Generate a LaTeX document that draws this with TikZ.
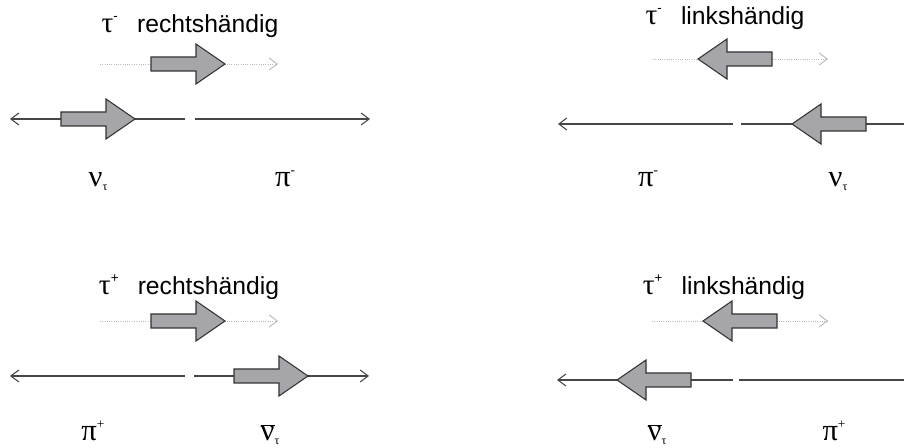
\documentclass[tikz,border=0pt]{standalone}
\usepackage{fontspec}
\setmainfont{Liberation Serif}
\setsansfont{Liberation Sans}
\usepackage{tikz}
\usetikzlibrary{arrows.meta}
\definecolor{spinfill}{RGB}{166,166,170}
\definecolor{trackgray}{RGB}{70,70,70}
\tikzstyle{track}=[draw=trackgray, line width=0.8pt,% thin open barb
-{Straight Barb[length=6pt,width=9pt]}]
\tikzstyle{tauline}=[draw=gray!55, densely dotted, line width=0.7pt,
-{Straight Barb[length=6pt,width=9pt]}]
\tikzstyle{spin}=[draw=black!80, fill=spinfill, line width=0.8pt, line join=miter]
\tikzstyle{title}=[anchor=base, inner sep=0pt, font=\sffamily\fontsize{18.5}{20}\selectfont]
\tikzstyle{particle}=[anchor=base, inner sep=0pt, font=\rmfamily\fontsize{23}{24}\selectfont]
\newcommand{\gtau}{{\rmfamily\fontsize{22}{24}\selectfont τ}}
\newcommand{\subtau}{\raisebox{-3pt}{\fontsize{9}{9}\selectfont τ}}
\newcommand{\supchar}[1]{\raisebox{9pt}{\fontsize{10}{10}\selectfont #1}}
% fat spin arrow: tip x, tip y, direction (1 right, -1 left)
\newcommand{\spinarrow}[3]{\draw[spin] (#1,#2) -- ++({-29*#3},-20) -- ++(0,13) -- ++({-45*#3},0) -- ++(0,14) -- ++({45*#3},0) -- ++(0,13) -- cycle;}
\newcommand{\nubar}{$\overline{\hbox{ν}}$}

\begin{document}
\begin{tikzpicture}[x=0.75pt,y=-0.75pt]
\useasboundingbox (0,0) rectangle (904,448);
% tau^- rechtshaendig
\node[title] (tit1) at (190,33) {\gtau\supchar{-}\hspace{0.5em} rechtshändig};
\coordinate (s1a) at (100,64); \coordinate (s1b) at (278,64);
\draw[tauline] (s1a) -- (s1b);
\spinarrow{225}{64}{1}
\coordinate (l1a) at (185,119); \coordinate (l1b) at (10,119);
\coordinate (r1a) at (195,119); \coordinate (r1b) at (370,119);
\draw[track] (l1a) -- (l1b);
\draw[track] (r1a) -- (r1b);
\spinarrow{135}{119}{1}
\node[particle] (nu1) at (98,187) {ν\subtau};
\node[particle] (pi1) at (285,187) {π\supchar{-}};
% tau^- linkshaendig
\node[title] (tit2) at (725,25) {\gtau\supchar{-}\hspace{0.5em} linkshändig};
\coordinate (s2a) at (653,59); \coordinate (s2b) at (828,59);
\draw[tauline] (s2a) -- (s2b);
\spinarrow{698}{59}{-1}
\coordinate (l2a) at (733,124); \coordinate (l2b) at (558,124);
\coordinate (r2a) at (741,124); \coordinate (r2b) at (920,124);
\draw[track] (l2a) -- (l2b);
\draw[track,-] (r2a) -- (r2b);
\spinarrow{792}{124}{-1}
\node[particle] (pi2) at (648,187) {π\supchar{-}};
\node[particle] (nu2) at (838,187) {ν\subtau};
% tau^+ rechtshaendig
\node[title] (tit3) at (189,295) {\gtau\supchar{+}\hspace{0.5em} rechtshändig};
\coordinate (s3a) at (100,321); \coordinate (s3b) at (278,321);
\draw[tauline] (s3a) -- (s3b);
\spinarrow{225}{321}{1}
\coordinate (l3a) at (185,376); \coordinate (l3b) at (10,376);
\coordinate (r3a) at (194,376); \coordinate (r3b) at (369,376);
\draw[track] (l3a) -- (l3b);
\draw[track] (r3a) -- (r3b);
\spinarrow{308}{376}{1}
\node[particle] (pi3) at (93,441) {π\supchar{+}};
\node[particle] (nu3) at (270,441) {\nubar\subtau};
% tau^+ linkshaendig
\node[title] (tit4) at (724,295) {\gtau\supchar{+}\hspace{0.5em} linkshändig};
\coordinate (s4a) at (652,321); \coordinate (s4b) at (828,321);
\draw[tauline] (s4a) -- (s4b);
\spinarrow{703}{321}{-1}
\coordinate (l4a) at (733,380); \coordinate (l4b) at (557,380);
\coordinate (r4a) at (739,380); \coordinate (r4b) at (920,380);
\draw[track] (l4a) -- (l4b);
\draw[track,-] (r4a) -- (r4b);
\spinarrow{617}{380}{-1}
\node[particle] (nu4) at (657,441) {\nubar\subtau};
\node[particle] (pi4) at (834,441) {π\supchar{+}};
\end{tikzpicture}
\end{document}
